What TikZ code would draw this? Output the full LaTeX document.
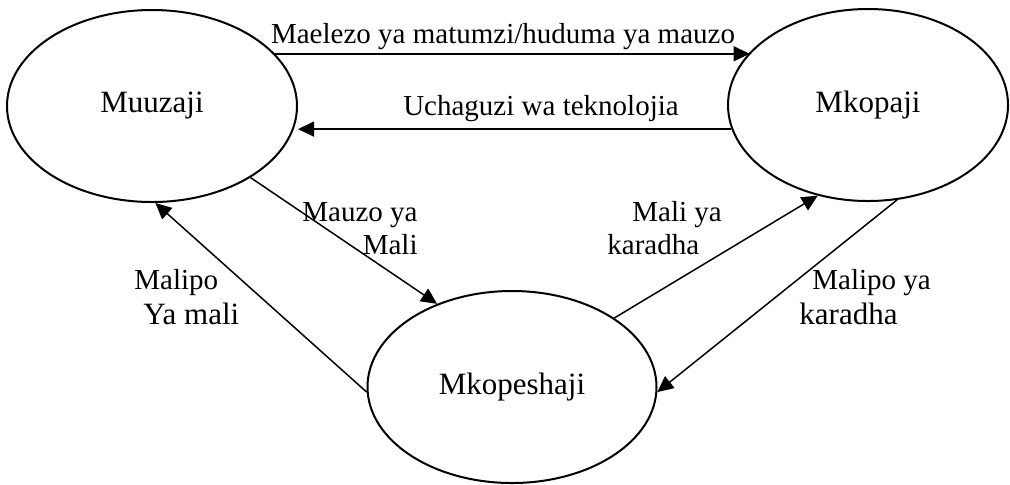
\documentclass[tikz,border=0pt]{standalone}
\usepackage{fontspec}
\setmainfont{Liberation Serif}
\usetikzlibrary{shapes.geometric,arrows.meta}
\begin{document}
\begin{tikzpicture}[x=0.5pt,y=-0.5pt,
  party/.style={ellipse, draw, line width=1pt, inner sep=0, minimum height=96pt, font=\fontsize{15.5}{18}\selectfont},
  flow/.style={-{Triangle[length=8pt,width=7.5pt]}, line width=0.75pt},
  lbl/.style={inner sep=0, font=\fontsize{14.5}{16.5}\selectfont}]
\useasboundingbox (0,0) rectangle (1010,484);
\node[party, minimum width=145pt] (nid0) at (152,106){Muuzaji};
\node[party, minimum width=140pt] (nid1) at (868,105){Mkopaji};
\node[party, minimum width=144.5pt] (nid2) at (512,387){Mkopeshaji};
\draw[flow](nid0.23) -- (nid0.23 -| nid1.156);
\node[lbl, anchor=base] (lid0) at (503,43){Maelezo ya matumzi/huduma ya mauzo};
\draw[flow](nid1.190) -- (nid1.190 -| nid0.east);
\node[lbl, anchor=base] (lid1) at (541,115){Uchaguzi wa teknolojia};
\draw[flow](nid0.-36) -- (nid2.132);
\node[lbl, anchor=base east, align=right] (lid2) at (418,254){Mauzo ya\\Mali};
\draw[flow](nid2.182) -- (nid0.-88);
\node[lbl, anchor=base west, align=left] (lid3) at (134,324){Malipo\\[1pt]\hspace*{4.5pt}{\fontsize{15.5}{18}\selectfont Ya mali}};
\draw[flow](nid2.34) -- (nid1.241);
\node[lbl, anchor=base west, align=left] (lid4) at (607,254){\hspace*{12.5pt}Mali ya\\karadha};
\draw[flow](nid1.-73) -- (nid2.-2);
\node[lbl, anchor=base west, align=left] (lid5) at (799,324){\hspace*{6.5pt}Malipo ya\\[1pt]{\fontsize{15.5}{18}\selectfont karadha}};
\end{tikzpicture}
\end{document}
